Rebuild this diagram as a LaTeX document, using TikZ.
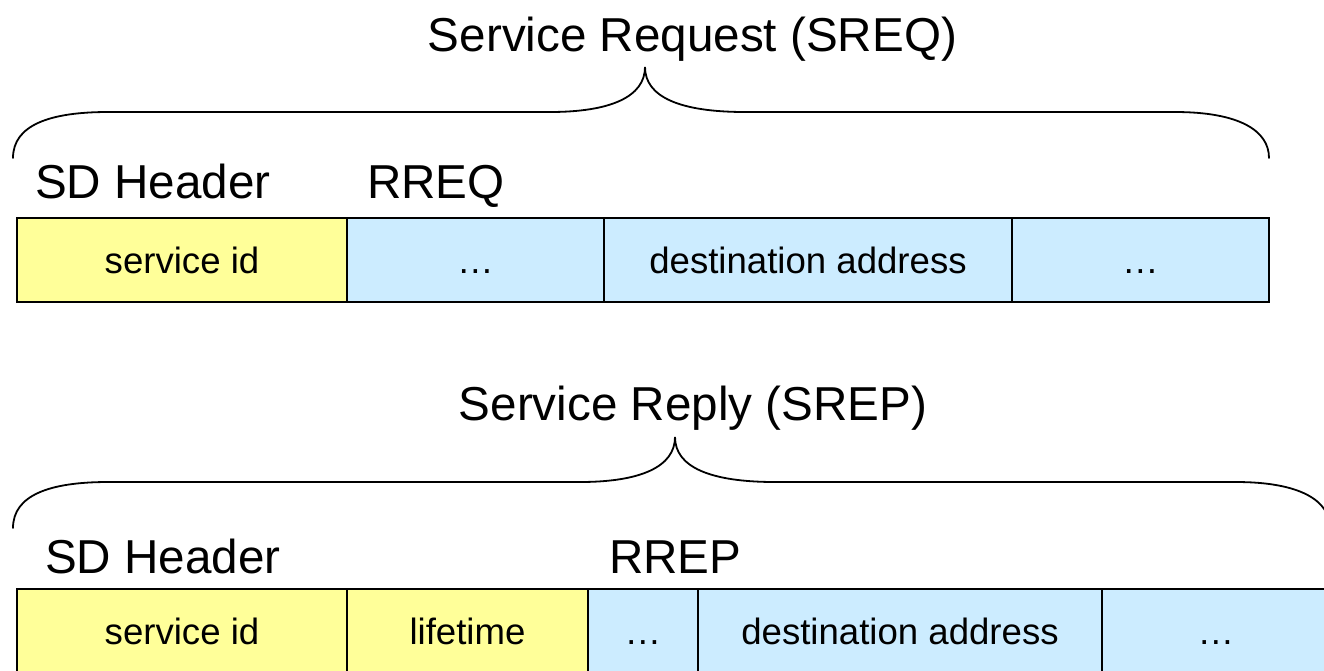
\documentclass[tikz,border=0pt]{standalone}
\usepackage{fontspec}
\setmainfont{Liberation Sans}
\definecolor{myyellow}{HTML}{FFFF99}
\definecolor{myblue}{HTML}{CCECFF}
\begin{document}
\begin{tikzpicture}[x=1pt,y=-1pt,
  cell/.style={draw=black, line width=1.8pt, minimum height=84pt, inner sep=0pt, outer sep=0pt,
    anchor=north west, text height=26pt, text depth=0pt, font=\fontsize{36.6}{44}\selectfont},
  ycell/.style={cell, fill=myyellow},
  bcell/.style={cell, fill=myblue},
  lbl/.style={inner sep=0pt, anchor=base west, font=\fontsize{47.6}{57}\selectfont},
  ttl/.style={inner sep=0pt, anchor=base, font=\fontsize{47.6}{57}\selectfont},
  bracestyle/.style={draw=black, line width=1.8pt, line cap=round}]
\useasboundingbox (0,0) rectangle (1324,670);

% ---- Service Request ----
\node[ttl] (t1) at (692.5,51) {Service Request (SREQ)};
\coordinate (b1l) at (13,158);
\coordinate (b1t) at (645,67);
\coordinate (b1r) at (1269,158);
\path[bracestyle] (b1l) .. controls (13,125) and (50,112) .. (108,112) -- (550,112)
  .. controls (610,112) and (645,97) .. (b1t)
  .. controls (645,97) and (680,112) .. (745,112) -- (1175,112)
  .. controls (1238,112) and (1269,130) .. (b1r);
\node[lbl] (h1) at (35,198) {SD Header};
\node[lbl] (r1) at (367,198) {RREQ};
\node[ycell, minimum width=330pt] (c11) at (17,218) {service id};
\node[bcell, minimum width=257pt] (c12) at (347,218) {…};
\node[bcell, minimum width=408pt] (c13) at (604,218) {destination address};
\node[bcell, minimum width=257pt] (c14) at (1012,218) {…};

% ---- Service Reply ----
\node[ttl] (t2) at (693,420) {Service Reply (SREP)};
\coordinate (b2l) at (13,528);
\coordinate (b2t) at (675,437);
\coordinate (b2r) at (1330,528);
\path[bracestyle] (b2l) .. controls (13,495) and (50,482) .. (108,482) -- (580,482)
  .. controls (640,482) and (675,467) .. (b2t)
  .. controls (675,467) and (710,482) .. (775,482) -- (1236,482)
  .. controls (1299,482) and (1330,500) .. (b2r);
\node[lbl] (h2) at (45,573) {SD Header};
\node[lbl] (r2) at (609,573) {RREP};
\node[ycell, minimum width=330pt] (c21) at (17,589) {service id};
\node[ycell, minimum width=241pt] (c22) at (347,589) {lifetime};
\node[bcell, minimum width=110pt] (c23) at (588,589) {…};
\node[bcell, minimum width=404pt] (c24) at (698,589) {destination address};
\node[bcell, minimum width=228pt] (c25) at (1102,589) {…};
\end{tikzpicture}
\end{document}
